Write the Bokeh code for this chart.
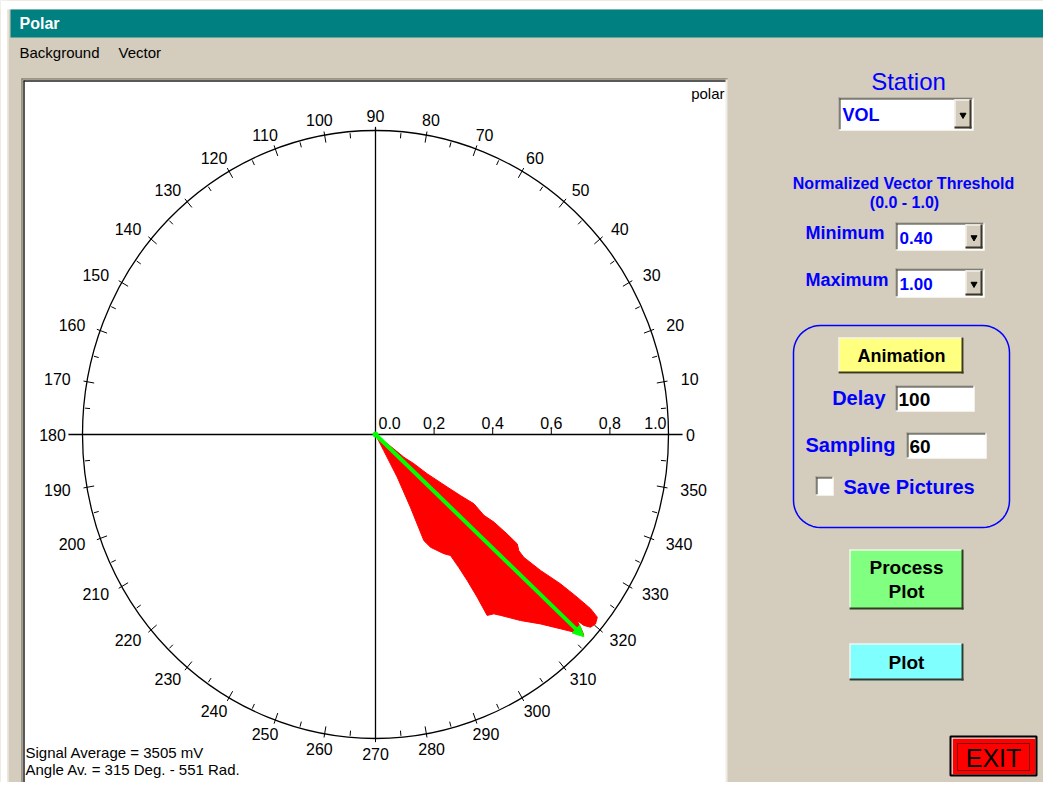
import numpy as np
from bokeh.plotting import figure
from bokeh.models import Range1d, Arrow, NormalHead
from bokeh.embed import file_html
from bokeh.resources import INLINE
from bokeh.core.properties import value

# ---------------- data ----------------
angle_ticks = list(range(0, 360, 10))      # labelled degree ticks
minor_ticks = list(range(5, 360, 10))      # unlabelled degree ticks
radial_ticks = [0.0, 0.2, 0.4, 0.6, 0.8, 1.0]
radial_labels = ["0.0", "0.2", "0.4", "0.6", "0.8", "1.0"]

# normalized vector envelope (east / north components)
vec_x = [0.000, 0.062, 0.097, 0.131, 0.176, 0.245, 0.290, 0.336, 0.370, 0.404,
         0.449, 0.484, 0.489, 0.506, 0.563, 0.631, 0.688, 0.734, 0.757, 0.751,
         0.734, 0.711, 0.688, 0.705, 0.711, 0.677, 0.631, 0.563, 0.495, 0.427,
         0.404, 0.381, 0.347, 0.313, 0.284, 0.256, 0.233, 0.188, 0.165, 0.119,
         0.074, 0.028]
vec_y = [0.000, -0.047, -0.075, -0.096, -0.129, -0.173, -0.201, -0.228, -0.266, -0.288,
         -0.327, -0.360, -0.382, -0.404, -0.447, -0.491, -0.535, -0.573, -0.601, -0.623,
         -0.634, -0.628, -0.612, -0.645, -0.661, -0.650, -0.639, -0.623, -0.612, -0.595,
         -0.590, -0.595, -0.535, -0.480, -0.437, -0.398, -0.392, -0.371, -0.349, -0.239,
         -0.140, -0.053]
avg_vx, avg_vy = 0.711, -0.665

signal_text = "Signal Average = 3505 mV"
angle_text = "Angle Av. = 315 Deg. -  551 Rad."
station = "VOL"
thr_min = "0.40"
thr_max = "1.00"
delay = "100"
sampling = "60"

# ---------------- figure ----------------
W, H = 1043, 782
CXF, CYF = 375, 434      # centre of polar in frame pixels
RX, RY = 293, 304        # pixel size of unit radius
BEIGE = "#d4ccbc"
BLUE = "#0000ff"
FONT = "Liberation Sans"

p = figure(width=W, height=H, output_backend="svg", toolbar_location=None,
           x_range=Range1d(-CXF / RX, (W - CXF) / RX),
           y_range=Range1d(-(H - CYF) / RY, CYF / RY),
           x_axis_location=None, y_axis_location=None, min_border=0)
p.grid.visible = False
p.outline_line_color = None
p.background_fill_color = BEIGE
p.border_fill_color = BEIGE


def X(px):
    return (px - CXF) / RX


def Y(py):
    return (CYF - py) / RY


def box(x0, y0, x1, y1, fill, line=None, lw=1, dash="solid"):
    p.quad(left=[X(x0)], right=[X(x1)], top=[Y(y0)], bottom=[Y(y1)],
           fill_color=fill, line_color=line, line_width=lw, line_dash=dash)


def seg(x0, y0, x1, y1, color, w=1):
    p.segment(x0=[X(x0)], y0=[Y(y0)], x1=[X(x1)], y1=[Y(y1)], line_color=color, line_width=w)


def txt(x, y, s, size, color="black", bold=False, align="left", font=FONT):
    p.text(x=[X(x)], y=[Y(y)], text=[s], text_font=value(font), text_font_size=f"{size}px",
           text_color=color, text_font_style="bold" if bold else "normal",
           text_align=align, text_baseline="middle")


def sunken(x0, y0, x1, y1, fill="white"):
    box(x0, y0, x1, y1, fill)
    seg(x0, y0 + 0.5, x1, y0 + 0.5, "#8a8474")
    seg(x0 + 0.5, y0, x0 + 0.5, y1, "#8a8474")
    seg(x0 + 1, y0 + 1.5, x1 - 1, y0 + 1.5, "#3a362c")
    seg(x0 + 1.5, y0 + 1, x0 + 1.5, y1 - 1, "#3a362c")
    seg(x0, y1 - 0.5, x1, y1 - 0.5, "#fbfaf6")
    seg(x1 - 0.5, y0, x1 - 0.5, y1, "#fbfaf6")


def raised(x0, y0, x1, y1, fill):
    box(x0, y0, x1, y1, fill)
    seg(x0, y0 + 0.5, x1, y0 + 0.5, "#f4f2ec", 1.5)
    seg(x0 + 0.5, y0, x0 + 0.5, y1, "#f4f2ec", 1.5)
    seg(x0, y1 - 1, x1, y1 - 1, "#3a362c", 2)
    seg(x1 - 1, y0, x1 - 1, y1, "#3a362c", 2)


def combo(x0, y0, x1, y1, s, size=17):
    sunken(x0, y0, x1, y1)
    raised(x1 - 19, y0 + 2, x1 - 2, y1 - 2, BEIGE)
    p.scatter(x=[X(x1 - 10.5)], y=[Y((y0 + y1) / 2 + 1)], marker="inverted_triangle",
              size=6, fill_color="black", line_color="black")
    txt(x0 + 4, (y0 + y1) / 2 + 1, s, size, BLUE, bold=True)


# window frame, title bar & menu
box(0, 0, W, 9, "white")
box(0, 0, 7, H, "white")
seg(7.5, 9, 7.5, H, "#ece8de", 1.5)
box(10, 9, W, 37, "#008080")
txt(19, 23, "Polar", 16, "white", bold=True)
txt(19, 52, "Background", 15)
txt(118, 52, "Vector", 15)

# plot panel
box(22, 79, 726, 787, "white")
seg(21, 78.5, 727, 78.5, "#8a8474", 1.5)
seg(21.5, 78, 21.5, 787, "#8a8474", 1.5)
seg(23, 80.5, 726, 80.5, "#222222", 1.5)
seg(23.5, 80, 23.5, 787, "#222222", 1.5)
seg(726, 79, 726, 787, "#efece4", 2)
txt(724, 93, "polar", 15, align="right")

# ---------------- polar chart ----------------
p.ellipse(x=[0], y=[0], width=[2], height=[2], fill_color=None, line_color="black", line_width=1.3)
p.segment(x0=[-1.048, 0], y0=[0, -1.0], x1=[1.048, 0], y1=[0, 1.01], line_color="black", line_width=1.3)

th = np.deg2rad(np.array(angle_ticks, dtype=float))
c, s = np.cos(th), np.sin(th)
p.segment(x0=0.975 * c, y0=0.975 * s, x1=1.012 * c, y1=1.012 * s, line_color="black", line_width=1)
thm = np.deg2rad(np.array(minor_ticks, dtype=float))
cm, sm = np.cos(thm), np.sin(thm)
p.segment(x0=0.978 * cm, y0=0.978 * sm, x1=0.995 * cm, y1=0.995 * sm, line_color="black", line_width=1)

labels = [str(a) for a in angle_ticks]
widths = np.array([8.0 * len(l) for l in labels])
lx = c + c * (18 + widths / 2) / RX
ly = s + s * 15 / RY
p.text(x=lx, y=ly, text=labels, text_font=value(FONT), text_font_size="16px",
       text_color="black", text_align="center", text_baseline="middle")

# radial scale
rt = np.array(radial_ticks[1:-1])
p.segment(x0=rt, y0=np.zeros_like(rt), x1=rt, y1=np.full_like(rt, 6 / RY), line_color="black", line_width=1)
for i, (r, lab) in enumerate(zip(radial_ticks, radial_labels)):
    if i == 0:
        align, off = "left", 3
    elif i == len(radial_ticks) - 1:
        align, off = "right", -2
    else:
        align, off = "center", 0
    p.text(x=[r + off / RX], y=[Y(422)], text=[lab], text_font=value(FONT), text_font_size="16px",
           text_color="black", text_align=align, text_baseline="middle")

# vectors
p.patch(x=vec_x, y=vec_y, fill_color="#ff0000", line_color="#ff0000", line_width=1)
p.add_layout(Arrow(end=NormalHead(size=11, fill_color="#00ff00", line_color="#00ff00"),
                   x_start=0, y_start=0, x_end=avg_vx, y_end=avg_vy,
                   line_color="#00ff00", line_width=4))
p.scatter(x=[0], y=[0], size=5, fill_color="#00ff00", line_color="#00ff00")

txt(25, 752, signal_text, 15)
txt(25, 769, angle_text, 15)

# ---------------- right control panel ----------------
txt(908, 81, "Station", 24, BLUE, align="center")
combo(838, 97, 973, 130, station, 18)

txt(903, 183, "Normalized Vector Threshold", 16, BLUE, bold=True, align="center")
txt(904, 202, "(0.0 - 1.0)", 16, BLUE, bold=True, align="center")
txt(805, 232, "Minimum", 18, BLUE, bold=True)
combo(895, 222, 984, 250, thr_min)
txt(805, 279, "Maximum", 18, BLUE, bold=True)
combo(895, 268, 984, 297, thr_max)

# rounded group box
r = 27
x0, y0, x1, y1 = 793, 325, 1009, 527
pts = []
for (cx, cy, a0) in [(x1 - r, y0 + r, 90), (x0 + r, y0 + r, 180), (x0 + r, y1 - r, 270), (x1 - r, y1 - r, 360)]:
    for a in np.linspace(a0 - 90, a0, 12):
        t = np.deg2rad(a)
        pts.append((cx + r * np.cos(t), cy - r * np.sin(t)))
pts.append(pts[0])
p.line(x=[X(q[0]) for q in pts], y=[Y(q[1]) for q in pts], line_color=BLUE, line_width=1.5)

raised(838, 337, 963, 373, "#ffff80")
txt(901, 355, "Animation", 18, bold=True, align="center")
txt(885, 397, "Delay", 20, BLUE, bold=True, align="right")
sunken(895, 385, 974, 411)
txt(898, 399, delay, 19, bold=True)
txt(805, 444, "Sampling", 20, BLUE, bold=True)
sunken(906, 432, 986, 458)
txt(909, 446, sampling, 19, bold=True)
sunken(815, 476, 833, 495)
txt(843, 486, "Save Pictures", 20, BLUE, bold=True)

raised(849, 549, 963, 609, "#80ff80")
txt(906, 567, "Process", 19, bold=True, align="center")
txt(906, 591, "Plot", 19, bold=True, align="center")

raised(849, 643, 963, 680, "#80ffff")
txt(906, 662, "Plot", 19, bold=True, align="center")

box(951, 737, 1035, 774, "#ff0000")
seg(951, 737.5, 1035, 737.5, "#f4f2ec", 1.5)
seg(951.5, 737, 951.5, 774, "#f4f2ec", 1.5)
box(950, 736, 1036, 775, None, "black", 2)
box(957, 743, 1029, 770, None, "black", 1, "1 1")
txt(993, 757, "EXIT", 25, align="center")

open("out.html", "w").write(file_html(p, INLINE))
